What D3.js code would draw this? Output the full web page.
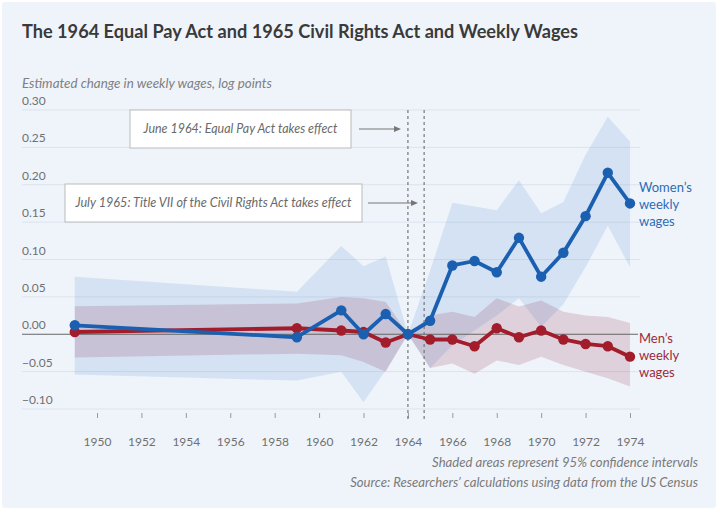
<!DOCTYPE html>
<html><head><meta charset="utf-8">
<script src="https://cdn.jsdelivr.net/npm/d3@7"></script>
<style>
html,body{margin:0;padding:0;background:#fff;}
svg text{font-family:Lato,"Open Sans",sans-serif;}
</style></head>
<body><svg id="c" width="720" height="513"></svg>
<script>
const years = [1949,1959,1961,1962,1963,1964,1965,1966,1967,1968,1969,1970,1971,1972,1973,1974];
const women   = [0.012,-0.004,0.032,0.000,0.027,0,0.018,0.092,0.098,0.083,0.129,0.077,0.109,0.158,0.216,0.175];
const womenLo = [-0.054,-0.062,-0.050,-0.091,-0.048,0,-0.045,-0.015,0.005,0.025,0.048,0.010,0.040,0.090,0.145,0.090];
const womenHi = [0.077,0.057,0.118,0.091,0.104,0,0.085,0.176,0.171,0.166,0.206,0.162,0.177,0.240,0.291,0.258];
const men     = [0.003,0.008,0.005,0.003,-0.011,0,-0.007,-0.007,-0.016,0.008,-0.004,0.005,-0.007,-0.013,-0.016,-0.030];
const menLo   = [-0.031,-0.026,-0.028,-0.037,-0.050,0,-0.045,-0.039,-0.053,-0.035,-0.041,-0.030,-0.041,-0.050,-0.059,-0.070];
const menHi   = [0.0375,0.041,0.050,0.048,0.043,0,0.025,0.030,0.023,0.048,0.037,0.045,0.030,0.025,0.023,0.015];
const yTicks = [-0.10,-0.05,0,0.05,0.10,0.15,0.20,0.25,0.30];
const xTicks = [1950,1952,1954,1956,1958,1960,1962,1964,1966,1968,1970,1972,1974];
const events = [1964, 1964.73];
const eventLabels = ["June 1964: Equal Pay Act takes effect","July 1965: Title VII of the Civil Rights Act takes effect"];

const svg = d3.select("#c");
svg.append("rect").attr("x",2).attr("y",2).attr("width",714).attr("height",506).attr("rx",3).attr("fill","#eff4fb");

const x = d3.scaleLinear().domain([1950,1974]).range([97,630]);
const y = d3.scaleLinear().domain([-0.10,0.30]).range([409,110]);

const fit = (sel, w) => { const L = sel.node().getComputedTextLength(); const fs = +sel.attr("font-size"); sel.attr("font-size", (fs*w/L).toFixed(2)); };

const title = svg.append("text").attr("x",22).attr("y",38).attr("font-size",19).attr("font-weight",700).attr("fill","#3a3a3a")
  .text("The 1964 Equal Pay Act and 1965 Civil Rights Act and Weekly Wages");
fit(title, 556);
const sub = svg.append("text").attr("x",22).attr("y",88).attr("font-size",13).attr("font-style","italic").attr("fill","#808080")
  .text("Estimated change in weekly wages, log points");
fit(sub, 250);

// grid
const fmt = v => (v<0?"\u2212":"") + Math.abs(v).toFixed(2);
const g = svg.append("g");
g.selectAll("line.grid").data(yTicks.filter(v=>v!==0)).join("line")
  .attr("x1",22).attr("x2",640).attr("y1",d=>y(d)).attr("y2",d=>y(d))
  .attr("stroke","#dbe3ec").attr("stroke-width",1);
g.selectAll("text.yl").data(yTicks).join("text")
  .attr("x",22).attr("y",d=>y(d)-5).attr("font-size",12).attr("fill","#707070").text(fmt);

// x axis
const xa = svg.append("g").attr("transform","translate(0,409)")
  .call(d3.axisBottom(x).tickValues(xTicks).tickFormat(d3.format("d")).tickSize(0).tickPadding(0));
xa.select(".domain").remove();
xa.selectAll(".tick line").remove();
xa.selectAll(".tick").append("line").attr("y1",4).attr("y2",9).attr("stroke","#999");
xa.selectAll(".tick text").attr("y",28).attr("font-size",12).attr("fill","#707070").attr("font-family","Lato");

// bands
const band = (lo,hi) => d3.area().x((d,i)=>x(years[i])).y0((d,i)=>y(lo[i])).y1((d,i)=>y(hi[i]));
svg.append("path").datum(years).attr("d",band(womenLo,womenHi)).attr("fill","rgba(120,165,215,0.22)");
svg.append("path").datum(years).attr("d",band(menLo,menHi)).attr("fill","rgba(145,50,80,0.18)");

// zero line
svg.append("line").attr("x1",22).attr("x2",638).attr("y1",y(0)).attr("y2",y(0)).attr("stroke","#666").attr("stroke-width",1);

// event lines
svg.selectAll("line.ev").data(events).join("line")
  .attr("x1",d=>x(d)).attr("x2",d=>x(d)).attr("y1",110).attr("y2",419)
  .attr("stroke","#777").attr("stroke-width",1.2).attr("stroke-dasharray","3,3");

// annotation boxes
const boxes = [{x0:130,x1:351,yc:129,ax0:359,ax1:401,i:0,w:194},{x0:65,x1:362,yc:203,ax0:368,ax1:418,i:1,w:276}];
boxes.forEach(b=>{
  svg.append("rect").attr("x",b.x0).attr("y",b.yc-19).attr("width",b.x1-b.x0).attr("height",38)
    .attr("fill","#fff").attr("stroke","#bbb").attr("stroke-width",1);
  const t = svg.append("text").attr("x",(b.x0+b.x1)/2).attr("y",b.yc+4).attr("text-anchor","middle")
    .attr("font-size",12).attr("font-style","italic").attr("fill","#6a6a6a").text(eventLabels[b.i]);
  fit(t, b.w);
  svg.append("line").attr("x1",b.ax0).attr("x2",b.ax1-6).attr("y1",b.yc).attr("y2",b.yc).attr("stroke","#777").attr("stroke-width",1.2);
  svg.append("path").attr("d",`M${b.ax1},${b.yc}L${b.ax1-7},${b.yc-3}L${b.ax1-7},${b.yc+3}Z`).attr("fill","#777");
});

// lines
const line = vals => d3.line().x((d,i)=>x(years[i])).y((d,i)=>y(vals[i]));
const series = [{v:men,c:"#a21c2c"},{v:women,c:"#1b5fb0"}];
series.forEach(s=>{
  svg.append("path").datum(years).attr("d",line(s.v)).attr("fill","none").attr("stroke",s.c).attr("stroke-width",3.8).attr("stroke-linejoin","round");
  svg.selectAll(null).data(years).join("circle").attr("cx",d=>x(d)).attr("cy",(d,i)=>y(s.v[i])).attr("r",5.2).attr("fill",s.c);
});

// series labels
const lab = (lines,y0,c)=>{ lines.forEach((t,i)=>svg.append("text").attr("x",639).attr("y",y0+i*17).attr("font-size",13).attr("fill",c).text(t)); };
lab(["Women\u2019s","weekly","wages"],192,"#2d6bb5");
lab(["Men\u2019s","weekly","wages"],343,"#9c2a3a");

// footer
const f1 = svg.append("text").attr("x",698).attr("y",467).attr("text-anchor","end").attr("font-size",13).attr("font-style","italic").attr("fill","#7a7a7a")
  .text("Shaded areas represent 95% confidence intervals");
fit(f1, 266);
const f2 = svg.append("text").attr("x",698).attr("y",487).attr("text-anchor","end").attr("font-size",13).attr("font-style","italic").attr("fill","#7a7a7a")
  .text("Source: Researchers\u2019 calculations using data from the US Census");
fit(f2, 348);
</script></body></html>
